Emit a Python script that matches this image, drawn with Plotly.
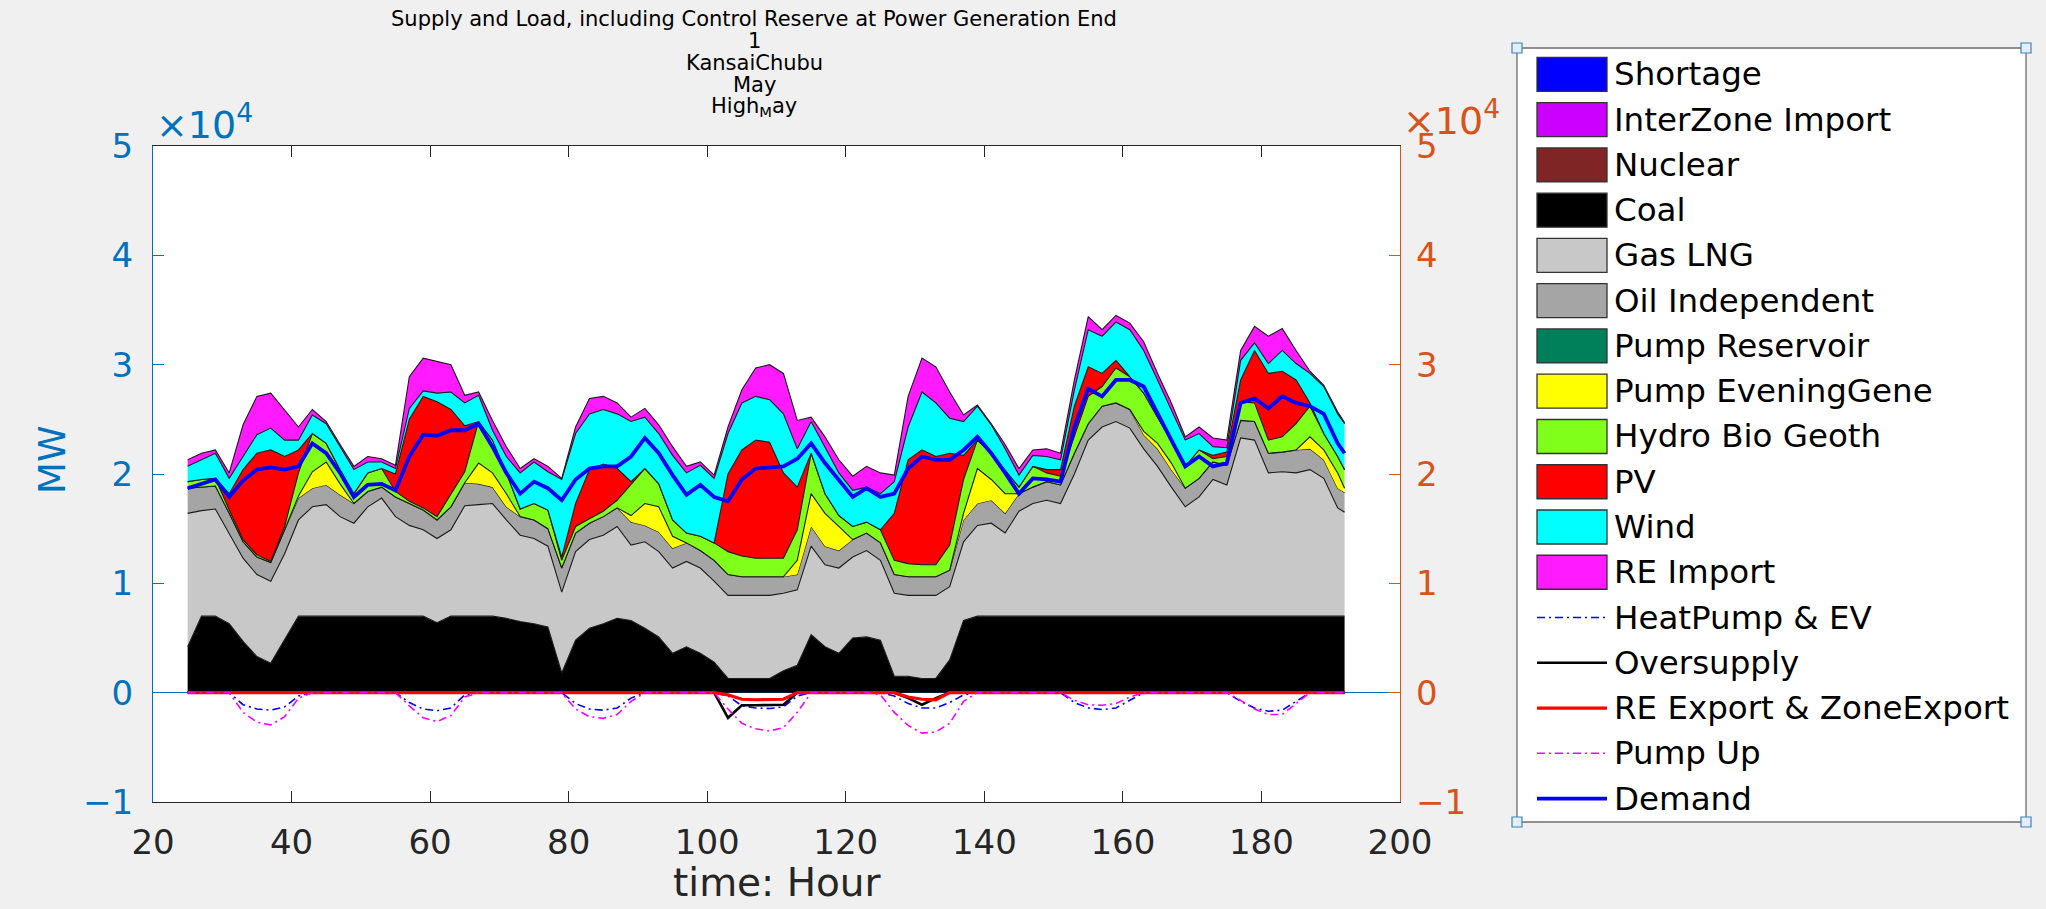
import plotly.graph_objects as go

# ---------------- data (MW) ----------------
hours = [25, 27, 29, 31, 33, 35, 37, 39, 41, 43,
         45, 47, 49, 51, 53, 55, 57, 59, 61, 63,
         65, 67, 69, 71, 73, 75, 77, 79, 81, 83,
         85, 87, 89, 91, 93, 95, 97, 99, 101, 103,
         105, 107, 109, 111, 113, 115, 117, 119, 121, 123,
         125, 127, 129, 131, 133, 135, 137, 139, 141, 143,
         145, 147, 149, 151, 153, 155, 157, 159, 161, 163,
         165, 167, 169, 171, 173, 175, 177, 179, 181, 183,
         185, 187, 189, 191, 192]

coal = [4200, 7000, 7000, 6300, 4700, 3300, 2700, 4800, 7000, 7000,
        7000, 7000, 7000, 7000, 7000, 7000, 7000, 7000, 6400, 7000,
        7000, 7000, 7000, 6800, 6500, 6300, 6000, 1800, 4800, 5900,
        6300, 6800, 6600, 5900, 5100, 3600, 4200, 3600, 2800, 1300,
        1300, 1300, 1300, 2000, 2500, 5300, 4200, 3600, 5000, 5100,
        4800, 1500, 1500, 1300, 1300, 3000, 6600, 7000, 7000, 7000,
        7000, 7000, 7000, 7000, 7000, 7000, 7000, 7000, 7000, 7000,
        7000, 7000, 7000, 7000, 7000, 7000, 7000, 7000, 7000, 7000,
        7000, 7000, 7000, 7000, 7000]

# cumulative tops of the stacked supply layers
gas_top = [16400, 16650, 16800, 14600, 12300, 10800, 10200, 12700, 15800, 17000,
           17200, 16100, 15500, 17000, 17800, 16100, 15300, 14900, 14100, 14900,
           17100, 17200, 17300, 15800, 14400, 14100, 13400, 9200, 12900, 14000,
           14400, 15200, 13500, 13800, 12900, 11400, 12000, 11400, 10200, 8900,
           8900, 8900, 8900, 9100, 9400, 13400, 11700, 11400, 12400, 13000,
           12100, 9100, 8900, 8900, 8900, 9700, 13800, 15300, 15500, 14600,
           16600, 17300, 17600, 17300, 20000, 23100, 24300, 24800, 24200, 22300,
           20700, 18800, 17000, 17900, 19500, 19000, 23300, 23100, 20100, 20200,
           20100, 20400, 19600, 16900, 16500]

oil_top = [18700, 18800, 18900, 16400, 13800, 12400, 11900, 14900, 17800, 18700,
           19000, 18100, 17300, 18400, 18800, 17900, 17300, 16700, 15800, 17000,
           19200, 19100, 18800, 17000, 16100, 15800, 15000, 11400, 14600, 15500,
           16100, 16900, 15600, 15300, 14700, 13200, 13700, 13000, 12100, 10800,
           10600, 10600, 10600, 10600, 10800, 15200, 13400, 13000, 14000, 14600,
           13700, 10800, 10600, 10600, 10600, 11200, 15800, 17300, 17600, 16400,
           18200, 18800, 19300, 19000, 21900, 24600, 26200, 26500, 25900, 23600,
           22300, 20400, 18700, 19600, 21100, 20800, 24900, 24800, 21900, 22000,
           22200, 22300, 21300, 18700, 18300]

evening_top = [18700, 18800, 18900, 16400, 13800, 12400, 11900, 14900, 18000, 20200,
               21100, 19100, 17300, 18400, 18800, 17900, 17300, 16700, 15800, 17000,
               19200, 21000, 20100, 18200, 16100, 15800, 15000, 11400, 14600, 15500,
               16100, 16900, 16200, 17300, 17000, 14300, 13700, 13000, 12100, 10800,
               10600, 10600, 10600, 10600, 12100, 18200, 16400, 15200, 14000, 14600,
               13700, 10800, 10600, 10600, 10600, 11200, 16400, 20500, 19500, 18200,
               18200, 18800, 19300, 19000, 21900, 24600, 26200, 26500, 25900, 23900,
               22800, 21000, 18700, 19600, 21100, 20800, 24900, 24800, 21900, 22000,
               22200, 23400, 22200, 20100, 18700]

hydro_top = [19300, 19500, 19600, 16700, 14000, 12600, 12000, 15200, 20100, 23700,
             22800, 20400, 18200, 20100, 20500, 18400, 17500, 16900, 16100, 18200,
             20200, 24800, 23100, 20100, 16800, 17300, 16700, 12100, 15200, 15900,
             16600, 17600, 19100, 20500, 19100, 15800, 14600, 14300, 13700, 12900,
             12500, 12300, 12300, 12300, 14900, 21900, 18200, 16200, 15200, 15600,
             14900, 12100, 11800, 11700, 11700, 13500, 19500, 23100, 21900, 20400,
             18800, 20700, 20100, 19800, 23400, 27100, 28000, 29700, 28900, 27400,
             25200, 23100, 20700, 22200, 21400, 21600, 26600, 26500, 23100, 23400,
             24600, 26200, 23700, 21600, 20400]

pv_top = [19300, 19500, 19600, 18200, 20400, 21900, 22200, 21600, 22200, 23700,
          22800, 20400, 18200, 20100, 20500, 20000, 25000, 27100, 26600, 25900,
          24400, 24800, 23100, 20100, 16800, 17300, 16700, 12400, 17300, 20400,
          20900, 20500, 19300, 20500, 19100, 15800, 14600, 14300, 13700, 20000,
          22200, 23100, 22900, 20100, 18800, 21900, 18200, 16200, 15200, 15600,
          14900, 16400, 21300, 22200, 21600, 21900, 21700, 23100, 21900, 20400,
          18800, 20700, 20400, 20400, 26200, 29800, 29200, 30400, 28900, 27400,
          25200, 23100, 20700, 22200, 21700, 22000, 28600, 31300, 29200, 29400,
          28600, 26500, 23700, 21600, 20400]

wind_top = [20700, 21300, 21900, 19600, 21600, 23600, 24200, 23100, 23100, 25400,
            24600, 22500, 20400, 21100, 21100, 20500, 26000, 27600, 27400, 27500,
            26500, 27200, 24000, 21600, 20100, 21100, 20200, 19500, 23700, 25500,
            25900, 25500, 24800, 25200, 23700, 21700, 20100, 20800, 19600, 23700,
            26500, 27100, 26800, 25500, 22300, 24800, 22500, 20100, 18500, 18800,
            18200, 19300, 24300, 27500, 26500, 25100, 24800, 26200, 24500, 22300,
            19900, 21700, 21600, 21300, 27700, 33200, 32600, 33900, 33200, 31300,
            28600, 25900, 23100, 23700, 22500, 22400, 30400, 32000, 30100, 31300,
            30100, 29200, 28000, 25500, 24600]

reimport_top = [21300, 21900, 22200, 20100, 24500, 27100, 27400, 25900, 24300, 25900,
                24800, 22700, 20700, 21600, 21400, 20800, 28900, 30600, 30300, 30000,
                27200, 27500, 24900, 22500, 20500, 21400, 20700, 19600, 24300, 26900,
                27100, 26500, 25200, 26000, 24500, 22500, 20700, 21100, 19900, 24300,
                27700, 29700, 30000, 29200, 24900, 25200, 23400, 21300, 19800, 20700,
                20100, 19900, 27100, 30600, 29800, 27500, 25400, 26300, 24600, 22700,
                20500, 22200, 22300, 21900, 28600, 34400, 33200, 34500, 33800, 32100,
                29200, 26500, 23400, 24300, 23300, 23100, 31300, 33500, 32600, 33300,
                31300, 29400, 28100, 25700, 24700]

demand = [18700, 19100, 19500, 17900, 19400, 20400, 20600, 20400, 20700, 22800,
          21900, 20100, 17900, 19000, 19100, 18500, 21600, 23600, 23500, 24000,
          24000, 24600, 22500, 20100, 18200, 19300, 18700, 17600, 19500, 20500,
          20700, 20700, 21600, 23300, 21900, 19900, 18100, 19000, 17900, 17500,
          19500, 20500, 20600, 20700, 21400, 22800, 21000, 19500, 17900, 18700,
          17900, 18200, 20500, 21600, 21300, 21300, 22200, 23400, 21900, 20100,
          18200, 19600, 19500, 19300, 24300, 27800, 27100, 28600, 28600, 28000,
          25500, 23100, 20700, 21600, 20700, 21000, 26500, 26900, 26000, 27100,
          26500, 26200, 25500, 22800, 21900]

heatpump_ev = [0, 0, 0, 0, -1100, -1500, -1600, -1300, -300, 0,
               0, 0, 0, 0, 0, 0, -900, -1500, -1650, -1400,
               -200, 0, 0, 0, 0, 0, 0, 0, -1000, -1500,
               -1600, -1400, -500, 0, 0, 0, 0, 0, 0, -300,
               -1200, -1400, -1450, -1300, -300, 0, 0, 0, 0, 0,
               0, -300, -1000, -1400, -1400, -900, -200, 0, 0, 0,
               0, 0, 0, 0, -900, -1400, -1550, -1400, -700, 0,
               0, 0, 0, 0, 0, 0, -800, -1400, -1700, -1600,
               -800, 0, 0, 0, 0]

oversupply = [0, 0, 0, 0, 0, 0, 0, 0, 0, 0,
              0, 0, 0, 0, 0, 0, 0, 0, 0, 0,
              0, 0, 0, 0, 0, 0, 0, 0, 0, 0,
              0, 0, 0, 0, 0, 0, 0, 0, 0, -2300,
              -1150, -1150, -1150, -1100, 0, 0, 0, 0, 0, 0,
              0, 0, -500, -1100, -500, 0, 0, 0, 0, 0,
              0, 0, 0, 0, 0, 0, 0, 0, 0, 0,
              0, 0, 0, 0, 0, 0, 0, 0, 0, 0,
              0, 0, 0, 0, 0]

re_export = [0, 0, 0, 0, 0, 0, 0, 0, 0, 0,
             0, 0, 0, 0, 0, 0, 0, 0, 0, 0,
             0, 0, 0, 0, 0, 0, 0, 0, 0, 0,
             0, 0, 0, 0, 0, 0, 0, 0, 0, -200,
             -600, -650, -650, -600, 0, 0, 0, 0, 0, 0,
             0, 0, -400, -600, -650, 0, 0, 0, 0, 0,
             0, 0, 0, 0, 0, 0, 0, 0, 0, 0,
             0, 0, 0, 0, 0, 0, 0, 0, 0, 0,
             0, 0, 0, 0, 0]

pump_up = [0, 0, 0, 0, -1800, -2700, -2950, -2200, -500, 0,
           0, 0, 0, 0, 0, 0, -1200, -2300, -2650, -2100,
           -400, 0, 0, 0, 0, 0, 0, 0, -1500, -2200,
           -2350, -2000, -800, 0, 0, 0, 0, 0, 0, -1500,
           -2800, -3300, -3500, -3200, -1800, 0, 0, 0, 0, 0,
           -200, -1800, -3000, -3700, -3600, -2800, -800, 0, 0, 0,
           0, 0, 0, 0, -700, -1100, -1150, -1000, -400, 0,
           0, 0, 0, 0, 0, 0, -700, -1500, -2000, -2000,
           -1000, 0, 0, 0, 0]

zero_series = [0] * len(hours)

y_ticks = [-10000, 0, 10000, 20000, 30000, 40000, 50000]
y_ticktext = ["\u22121", "0", "1", "2", "3", "4", "5"]
x_ticks = [20, 40, 60, 80, 100, 120, 140, 160, 180, 200]

title_lines = ["Supply and Load, including Control Reserve at Power Generation End",
               "1", "KansaiChubu", "May", "High<sub>M</sub>ay"]

# ---------------- derived layers ----------------
def diff(a, b):
    return [x - y for x, y in zip(a, b)]

gas = diff(gas_top, coal)
oil = diff(oil_top, gas_top)
evening = diff(evening_top, oil_top)
hydro = diff(hydro_top, evening_top)
pv = diff(pv_top, hydro_top)
wind = diff(wind_top, pv_top)
reimport = diff(reimport_top, wind_top)

stack = [
    ("Shortage", zero_series, "#0000FF"),
    ("InterZone Import", zero_series, "#CC00FF"),
    ("Nuclear", zero_series, "#7F2525"),
    ("Coal", coal, "#000000"),
    ("Gas LNG", gas, "#C8C8C8"),
    ("Oil Independent", oil, "#A5A5A5"),
    ("Pump Reservoir", zero_series, "#00805A"),
    ("Pump EveningGene", evening, "#FFFF00"),
    ("Hydro Bio Geoth", hydro, "#80FF1A"),
    ("PV", pv, "#FF0000"),
    ("Wind", wind, "#00FFFF"),
    ("RE Import", reimport, "#FF1AFF"),
]

lines = [
    ("HeatPump & EV", heatpump_ev, "#0000FF", 1.6, "8px,4px,2px,4px"),
    ("Oversupply", oversupply, "#000000", 2.6, "solid"),
    ("RE Export & ZoneExport", re_export, "#FF0000", 3.2, "solid"),
    ("Pump Up", pump_up, "#FF00FF", 1.6, "8px,4px,2px,4px"),
    ("Demand", demand, "#0000FF", 3.8, "solid"),
]

fig = go.Figure()
for name, vals, col in stack:
    is_zero = all(v == 0 for v in vals)
    fig.add_trace(go.Scatter(
        x=hours, y=vals, name=name, stackgroup="supply", mode="lines",
        fillcolor=col, line=dict(color="#1a1a1a", width=0 if is_zero else 1.1),
        showlegend=False, hoverinfo="x+y+name"))

for name, vals, col, w, dash in lines:
    fig.add_trace(go.Scatter(
        x=hours, y=vals, name=name, mode="lines",
        line=dict(color=col, width=w, dash=dash), showlegend=False))

# invisible trace so the right axis is drawn
fig.add_trace(go.Scatter(x=[hours[0]], y=[0], yaxis="y2", mode="lines",
                         line=dict(width=0), showlegend=False, hoverinfo="skip"))

# ---------------- layout ----------------
W, H = 2046, 909
ML, MR, MT, MB = 153, 646, 146, 107
PW, PH = W - ML - MR, H - MT - MB


def px_x(px):
    return (px - ML) / PW


def px_y(py):
    return (H - MB - py) / PH


FONT = "DejaVu Sans"
BLUE_AX = "#0072BD"
ORANGE_AX = "#D95319"

fig.update_layout(
    width=W, height=H,
    margin=dict(l=ML, r=MR, t=MT, b=MB, pad=0),
    paper_bgcolor="#F0F0F0", plot_bgcolor="white",
    font=dict(family=FONT, color="#262626"),
    showlegend=False,
    xaxis=dict(range=[20, 200], tickvals=x_ticks, ticks="inside", ticklen=11,
               tickcolor="#262626", showline=True, linecolor="#262626", linewidth=1.2,
               mirror="ticks", showgrid=False, zeroline=False,
               tickfont=dict(size=34, color="#262626", family=FONT),
               ticklabelstandoff=10),
    yaxis=dict(range=[-10000, 50000], tickvals=y_ticks, ticktext=y_ticktext,
               ticks="inside", ticklen=11, tickcolor=BLUE_AX, showline=True,
               linecolor=BLUE_AX, linewidth=1.2, showgrid=False,
               zeroline=True, zerolinecolor=BLUE_AX, zerolinewidth=1.2,
               tickfont=dict(size=34, color=BLUE_AX, family=FONT),
               ticklabelstandoff=12),
    yaxis2=dict(range=[-10000, 50000], tickvals=y_ticks, ticktext=y_ticktext,
                overlaying="y", side="right", ticks="inside", ticklen=11,
                tickcolor=ORANGE_AX, showline=True, linecolor=ORANGE_AX,
                linewidth=1.2, showgrid=False, zeroline=False,
                tickfont=dict(size=34, color=ORANGE_AX, family=FONT),
                ticklabelstandoff=8),
)

ann = []
# title lines
for i, t in enumerate(title_lines):
    ann.append(dict(text=t, x=px_x(754), y=px_y(18.5 + i * 22.2), xref="paper", yref="paper",
                    xanchor="center", yanchor="middle", showarrow=False,
                    font=dict(size=21, color="black", family=FONT)))
# exponent labels
ann.append(dict(text="\u00d710<sup>4</sup>", x=px_x(154), y=px_y(149), xref="paper", yref="paper",
                xanchor="left", yanchor="bottom", showarrow=False,
                font=dict(size=38, color=BLUE_AX, family=FONT)))
ann.append(dict(text="\u00d710<sup>4</sup>", x=px_x(1401), y=px_y(145), xref="paper", yref="paper",
                xanchor="left", yanchor="bottom", showarrow=False,
                font=dict(size=38, color=ORANGE_AX, family=FONT)))
# axis titles
ann.append(dict(text="MW", x=px_x(52), y=px_y(460), xref="paper", yref="paper",
                xanchor="center", yanchor="middle", textangle=-90, showarrow=False,
                font=dict(size=37, color=BLUE_AX, family=FONT)))
ann.append(dict(text="time: Hour", x=px_x(777), y=px_y(882), xref="paper", yref="paper",
                xanchor="center", yanchor="middle", showarrow=False,
                font=dict(size=39, color="#262626", family=FONT)))

# ---------------- legend (drawn as a MATLAB-style box) ----------------
shapes = []
LX0, LX1, LY0, LY1 = 1517, 2026, 48, 822
shapes.append(dict(type="rect", xref="paper", yref="paper",
                   x0=px_x(LX0), x1=px_x(LX1), y0=px_y(LY1), y1=px_y(LY0),
                   fillcolor="white", line=dict(color="#6f6f6f", width=1.3)))
entries = [(n, "patch", c, None, None) for n, _, c in stack] + \
          [(n, "line", c, w, d) for n, _, c, w, d in lines]
for i, (name, kind, col, w, dash) in enumerate(entries):
    cy = 74.4 + i * 45.26
    if kind == "patch":
        shapes.append(dict(type="rect", xref="paper", yref="paper",
                           x0=px_x(1537), x1=px_x(1607), y0=px_y(cy + 17), y1=px_y(cy - 17),
                           fillcolor=col, line=dict(color="#333333", width=1.3)))
    else:
        shapes.append(dict(type="line", xref="paper", yref="paper",
                           x0=px_x(1537), x1=px_x(1607), y0=px_y(cy), y1=px_y(cy),
                           line=dict(color=col, width=w, dash=dash)))
    ann.append(dict(text=name, x=px_x(1612), y=px_y(cy), xref="paper", yref="paper",
                    xanchor="left", yanchor="middle", showarrow=False,
                    font=dict(size=32.5, color="black", family=FONT)))
# selection handles at the legend corners
for cx in (LX0, LX1):
    for cy in (LY0, LY1):
        shapes.append(dict(type="rect", xref="paper", yref="paper",
                           x0=px_x(cx - 5), x1=px_x(cx + 5), y0=px_y(cy + 5), y1=px_y(cy - 5),
                           fillcolor="#E3EEF8", line=dict(color="#3F82BE", width=1.2)))

fig.update_layout(annotations=ann, shapes=shapes)
fig.write_html("out.html",
               config={"displayModeBar": False},
               post_script="document.body.style.margin='0px';document.body.style.padding='0px';"
                           "document.body.style.overflow='hidden';")
